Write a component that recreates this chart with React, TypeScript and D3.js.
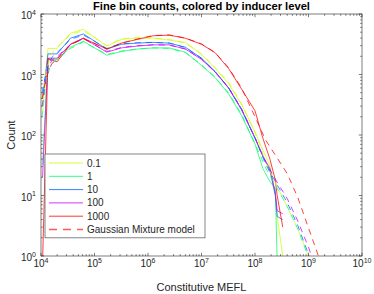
import React from 'react';
import * as d3 from 'd3';

// inducer levels and their line colours (MATLAB hsv(5), rotated)
const levels = ['0.1', '1', '10', '100', '1000'];
const colors = ['#ccff00', '#00ff66', '#0066ff', '#cc00ff', '#ff0000'];

// fine bin centres (MEFL)
const bins = [1.07e4, 1.35e4, 2.0e4, 3.55e4, 6.2e4, 1.7e5, 3.2e5, 6.3e5, 1.26e6, 2.5e6, 5.0e6,
  1.0e7, 1.8e7, 3.2e7, 5.6e7, 1.0e8, 1.4e8, 1.9e8, 2.4e8, 2.6e8, 3.3e8];

// measured counts per level
const counts01 = [250, 2700, 2700, 4800, 5600, 2950, 3800, 4000, 4000, 3700, 3400, 2150, 1260, 710, 320, 112, 56, 32, 10, 4.5, 1];
const counts1 = [32, 1820, 1740, 2820, 3550, 2090, 2400, 2630, 2750, 2750, 2340, 1410, 890, 480, 210, 71, 28, 17, 13, 0.8, null];
const counts10 = [400, 2190, 2190, 3980, 4680, 2630, 3160, 3310, 3390, 3310, 2820, 1860, 1120, 600, 263, 89, 45, 26, 10, 4.5, 4];
const counts100 = [20, 1860, 1860, 3160, 3980, 2340, 2750, 2950, 3090, 3090, 2630, 1780, 1100, 600, 263, 89, 45, 28, 11, 5.6, 5];
const counts1000 = [0.8, 1820, 1620, 3160, 3980, 2630, 3310, 3800, 4370, 4470, 3980, 3160, 2290, 1260, 575, 251, 89, 40, 18, 10, 3];

// gaussian mixture model curves
const modelBins = [1.05e4, 1.26e4, 1.58e4, 2.0e4, 3.55e4, 6.2e4, 1.7e5, 3.2e5, 6.3e5, 1.26e6, 2.5e6, 5.0e6,
  1.0e7, 1.8e7, 3.2e7, 5.6e7, 1.0e8, 1.6e8, 2.5e8, 4.0e8, 6.3e8, 1.0e9, 1.6e9];
const model01 = [400, 1200, 2200, 2800, 4600, 5300, 3000, 3900, 4100, 4000, 3800, 3300, 2200, 1300, 740, 330, 110, 35, 15, 6.5, 2.8, 1, 0.3];
const model1 = [200, 900, 1500, 1800, 2700, 3450, 2150, 2450, 2650, 2750, 2700, 2300, 1450, 900, 500, 220, 72, 28, 14, 6.6, 2.8, 0.95, 0.3];
const model10 = [500, 1100, 1900, 2300, 3800, 4500, 2700, 3200, 3350, 3400, 3300, 2800, 1850, 1100, 610, 270, 90, 32, 16, 7.6, 3.2, 1.07, 0.3];
const model100 = [300, 1000, 1700, 2000, 3100, 3900, 2400, 2800, 3000, 3100, 3050, 2650, 1800, 1100, 610, 270, 90, 35, 17.4, 8.9, 3.8, 1.4, 0.4];
const model1000 = [400, 900, 1500, 1800, 3100, 3900, 2650, 3300, 3850, 4400, 4500, 4000, 3200, 2300, 1300, 600, 200, 81, 44, 23, 9.3, 2.9, 0.9];

const dataSeries = [counts01, counts1, counts10, counts100, counts1000];
const modelSeries = [model01, model1, model10, model100, model1000];

const xDecades = [4, 5, 6, 7, 8, 9, 10];
const yDecades = [0, 1, 2, 3, 4];

const W = 374, H = 294;
const M = { left: 41, right: 362, top: 14, bottom: 256 };
const font = '"Liberation Sans", Arial, Helvetica, sans-serif';
const axisColor = '#262626';
const modelLegendColor = '#ff5a5a';

export default function App() {
  const x = d3.scaleLog().domain([1e4, 1e10]).range([M.left, M.right]);
  const y = d3.scaleLog().domain([1, 1e4]).range([M.bottom, M.top]);

  const line = d3.line<[number, number | null]>()
    .defined(d => d[1] != null)
    .x(d => x(d[0]))
    .y(d => y(Math.max(d[1] as number, 0.3)));

  const minor = (decades: number[]) => {
    const out: number[] = [];
    decades.slice(0, -1).forEach(k => { for (let m = 2; m < 10; m++) out.push(m * Math.pow(10, k)); });
    return out;
  };
  const xMinor = minor(xDecades);
  const yMinor = minor(yDecades);

  const lgX = 45, lgY = 154, lgW = 160, lgRow = 13.3;
  const nRows = levels.length + 1;

  return (
    <div style={{ position: 'fixed', left: 0, top: 0 }}>
      <svg width={W} height={H} style={{ display: 'block', background: '#fff' }} fontFamily={font}>
        <defs>
          <clipPath id="plot">
            <rect x={M.left} y={M.top} width={M.right - M.left} height={M.bottom - M.top} />
          </clipPath>
        </defs>

        <g clipPath="url(#plot)" fill="none" strokeWidth={0.75}>
          {dataSeries.map((s, i) => (
            <path key={'d' + i} d={line(bins.map((b, j) => [b, s[j]]))!} stroke={colors[i]} />
          ))}
          {modelSeries.map((s, i) => (
            <path key={'m' + i} d={line(modelBins.map((b, j) => [b, s[j]]))!} stroke={colors[i]} strokeDasharray="6,5" />
          ))}
        </g>

        {/* box + ticks */}
        <rect x={M.left} y={M.top} width={M.right - M.left} height={M.bottom - M.top} fill="none" stroke={axisColor} strokeWidth={0.6} />
        <g stroke={axisColor} strokeWidth={0.6}>
          {xDecades.map(k => {
            const px = x(Math.pow(10, k));
            return <g key={'xt' + k}>
              <line x1={px} x2={px} y1={M.bottom} y2={M.bottom - 3.2} />
              <line x1={px} x2={px} y1={M.top} y2={M.top + 3.2} />
            </g>;
          })}
          {xMinor.map(v => (
            <g key={'xm' + v}>
              <line x1={x(v)} x2={x(v)} y1={M.bottom} y2={M.bottom - 1.8} />
              <line x1={x(v)} x2={x(v)} y1={M.top} y2={M.top + 1.8} />
            </g>
          ))}
          {yDecades.map(k => {
            const py = y(Math.pow(10, k));
            return <g key={'yt' + k}>
              <line x1={M.left} x2={M.left + 3.2} y1={py} y2={py} />
              <line x1={M.right} x2={M.right - 3.2} y1={py} y2={py} />
            </g>;
          })}
          {yMinor.map(v => (
            <g key={'ym' + v}>
              <line x1={M.left} x2={M.left + 1.8} y1={y(v)} y2={y(v)} />
              <line x1={M.right} x2={M.right - 1.8} y1={y(v)} y2={y(v)} />
            </g>
          ))}
        </g>

        {/* tick labels */}
        <g fill={axisColor} fontSize={10}>
          {xDecades.map(k => (
            <text key={'xl' + k} x={x(Math.pow(10, k))} y={267} textAnchor="middle">
              10<tspan fontSize={7} dy={-4.5}>{k}</tspan>
            </text>
          ))}
          {yDecades.map(k => (
            <text key={'yl' + k} x={36} y={y(Math.pow(10, k)) + 5} textAnchor="end">
              10<tspan fontSize={7} dy={-4.5}>{k}</tspan>
            </text>
          ))}
        </g>

        {/* titles */}
        <text x={(M.left + M.right) / 2} y={10} textAnchor="middle" fontSize={11.2} fontWeight="bold" fill="#000">
          Fine bin counts, colored by inducer level
        </text>
        <text x={(M.left + M.right) / 2} y={291} textAnchor="middle" fontSize={11} fill={axisColor}>
          Constitutive MEFL
        </text>
        <text transform={`translate(15,${(M.top + M.bottom) / 2}) rotate(-90)`} textAnchor="middle" fontSize={11} fill={axisColor}>
          Count
        </text>

        {/* legend */}
        <rect x={lgX} y={lgY} width={lgW} height={lgRow * nRows + 4} fill="#fff" stroke="#666" strokeWidth={0.8} />
        {levels.map((l, i) => {
          const cy = lgY + 9 + i * lgRow;
          return <g key={'lg' + i}>
            <line x1={lgX + 4} x2={lgX + 38} y1={cy} y2={cy} stroke={colors[i]} strokeWidth={0.8} />
            <text x={lgX + 42} y={cy + 3.5} fontSize={10} fill={axisColor}>{l}</text>
          </g>;
        })}
        <line x1={lgX + 4} x2={lgX + 38} y1={lgY + 9 + levels.length * lgRow} y2={lgY + 9 + levels.length * lgRow}
          stroke={modelLegendColor} strokeWidth={1.3} strokeDasharray="8 6" />
        <text x={lgX + 42} y={lgY + 12.5 + levels.length * lgRow} fontSize={10} fill={axisColor}>Gaussian Mixture model</text>
      </svg>
    </div>
  );
}
